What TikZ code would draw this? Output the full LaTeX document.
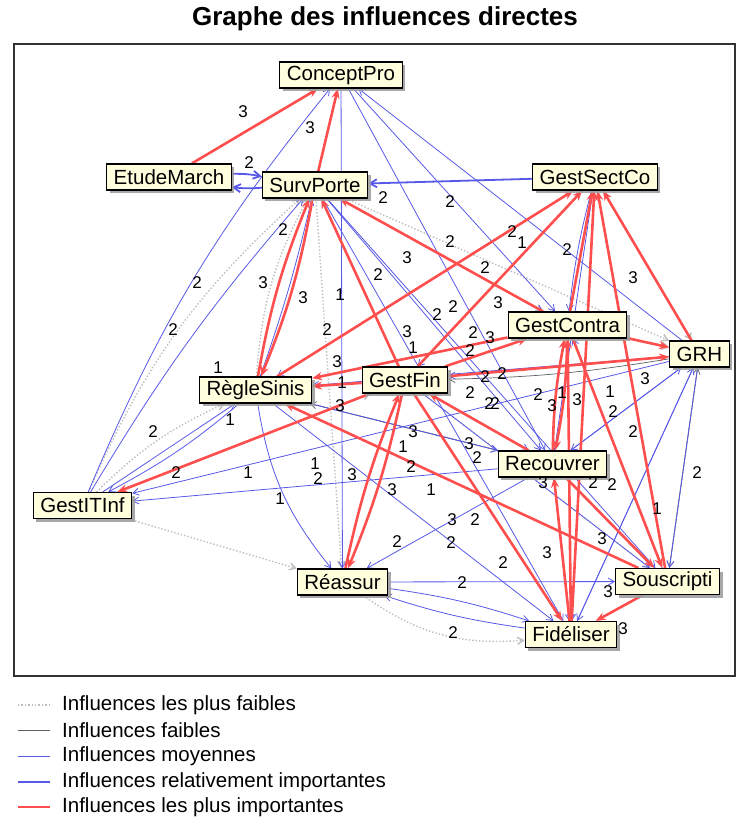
\documentclass[tikz,border=0pt]{standalone}
\usepackage{fontspec}
\setmainfont{Liberation Sans}
\usetikzlibrary{arrows.meta,shadows}

\definecolor{strong}{RGB}{255,78,78}
\definecolor{medium}{RGB}{88,88,232}
\definecolor{weakgray}{RGB}{95,95,95}
\definecolor{faint}{RGB}{190,190,190}
\definecolor{boxfill}{RGB}{255,255,222}

\pgfdeclarelayer{edges}
\pgfsetlayers{edges,main}

\tikzset{
  var/.style={draw=black, line width=1.1pt, fill=boxfill, minimum height=26pt,
    inner xsep=7pt, inner ysep=0pt, font=\fontsize{20.5}{22}\selectfont,
    drop shadow={shadow xshift=3pt, shadow yshift=-3pt, fill=gray!75, opacity=0.9}},
  e3/.style={draw=strong, line width=2.6pt, -{Stealth[length=10pt,width=8pt]}},
  e2/.style={draw=medium, line width=0.8pt, -{Straight Barb[length=6pt,width=7pt]}},
  e2b/.style={draw=medium, line width=1.8pt, -{Straight Barb[length=7pt,width=8pt]}},
  e1/.style={draw=weakgray, line width=0.7pt, -{Straight Barb[length=6pt,width=7pt]}},
  e0/.style={draw=faint, line width=1.4pt, dotted, -{Straight Barb[length=6pt,width=7pt]}},
  elbl/.style={font=\fontsize{17}{17}\selectfont, inner sep=0pt},
  legtxt/.style={font=\fontsize{20.5}{22}\selectfont, anchor=west, inner sep=0pt},
  frame/.style={draw=black!80, line width=1.4pt}
}

\begin{document}
\begin{tikzpicture}[x=1pt, y=-1pt]
\useasboundingbox (0,0) rectangle (749,817);

% title and frame
\node[font=\fontsize{26}{28}\selectfont\bfseries] (title) at (385,19) {Graphe des influences directes};
\draw[frame] (14,44) rectangle (735,676);

% variables
\node[var] (cp)  at (341,75)    {ConceptPro};
\node[var] (em)  at (169,177)   {EtudeMarch};
\node[var] (sp)  at (315,185)   {SurvPorte};
\node[var] (gs)  at (595,177)   {GestSectCo};
\node[var] (gc)  at (567.5,325) {GestContra};
\node[var] (grh) at (699.5,354) {GRH};
\node[var] (rs)  at (255.5,390) {RègleSinis};
\node[var] (gf)  at (405,380)   {GestFin};
\node[var] (rc)  at (552.5,464) {Recouvrer};
\node[var] (gi)  at (82.5,505.5){GestITInf};
\node[var] (re)  at (342.5,582) {Réassur};
\node[var] (so)  at (667.5,581.5){Souscripti};
\node[var] (fi)  at (571,634.5) {Fidéliser};

\begin{pgfonlayer}{edges}
% weakest influences
\draw[e0] (gi) to[bend left=12] (sp);
\draw[e0] (gi) to[bend left=10] (rs);
\draw[e0] (gi) -- (gf);
\draw[e0] (sp) -- (grh);
\draw[e0] (sp) -- (gc);
\draw[e0] (sp) -- (re);
\draw[e0] (rs) -- (rc);
\draw[e0] (grh) -- (so);
\draw[e0] (re) to[bend right=20] (fi);
\draw[e0] (gf) -- (so);
\draw[e0] (rs) to[bend left=12] (sp);
\draw[e0] (gs) -- (grh);
\draw[e0] (gi) -- (re);
\draw[e0] (gc) -- (grh);

% weak influences
\draw[e1] (rc) -- (rs);
\draw[e1] (grh) to[bend left=4] (gf);
\draw[e1] (so) -- (grh);

% medium influences
\draw[e2] (gi) to[bend left=8] (cp);
\draw[e2] (gi) to[bend left=5] (sp);
\draw[e2] (rs) to[bend right=3] (sp);
\draw[e2] (grh) -- (cp);
\draw[e2] (cp) -- (re);
\draw[e2] (cp) -- (rc);
\draw[e2] (cp) -- (gc);
\draw[e2] (sp) -- (gc);
\draw[e2] (sp) -- (rc);
\draw[e2] (sp) -- (fi);
\draw[e2] (sp) -- (so);
\draw[e2] (gs) -- (rs);
\draw[e2] (gs) -- (gf);
\draw[e2] (gs) -- (rc);
\draw[e2] (gs) -- (fi);
\draw[e2] (gs) to[bend right=4] (gc);
\draw[e2] (rc) -- (re);
\draw[e2] (grh) -- (gf);
\draw[e2] (grh) -- (rs);
\draw[e2] (grh) -- (rc);
\draw[e2] (grh) -- (fi);
\draw[e2] (grh) -- (so);
\draw[e2] (grh) -- (gi);
\draw[e2] (rc) -- (gi);
\draw[e2] (gi) -- (rs);
\draw[e2] (rs) to[bend left=6] (gi);
\draw[e2] (rs) to[bend right=15] (re);
\draw[e2] (rs) -- (fi);
\draw[e2] (rs) -- (rc);
\draw[e2] (gf) -- (rc);
\draw[e2] (gf) -- (so);
\draw[e2] (re) -- (so);
\draw[e2] (re) to[bend left=5] (fi);
\draw[e2] (fi) to[bend left=5] (re);
\draw[e2] (rc) -- (fi);
\draw[e2] (gc) -- (fi);
\draw[e2] (so) -- (gc);
\draw[e2] (fi) -- (grh);
\draw[e2] (rc) -- (grh);

% relatively important influences
\draw[e2b] (gs) -- (sp);
\draw[e2b] (em) to[bend left=6] (sp);
\draw[e2b] (sp) to[bend left=6] (em);

% most important influences
\draw[e3] (em) -- (cp);
\draw[e3] (sp) -- (cp);
\draw[e3] (rs) to[bend left=6] (sp);
\draw[e3] (sp) to[bend left=6] (rs);
\draw[e3] (gf) -- (sp);
\draw[e3] (gc) -- (sp);
\draw[e3] (rs) -- (gs);
\draw[e3] (gf) -- (gs);
\draw[e3] (gc) -- (gs);
\draw[e3] (fi) -- (gs);
\draw[e3] (so) -- (gs);
\draw[e3] (grh) -- (gs);
\draw[e3] (gf) -- (rs);
\draw[e3] (gc) -- (rs);
\draw[e3] (gf) -- (gc);
\draw[e3] (gf) -- (grh);
\draw[e3] (gc) -- (grh);
\draw[e3] (gc) to[bend left=5] (rc);
\draw[e3] (rc) to[bend left=5] (gc);
\draw[e3] (fi) -- (rc);
\draw[e3] (fi) -- (gc);
\draw[e3] (so) -- (fi);
\draw[e3] (gc) -- (so);
\draw[e3] (rc) -- (so);
\draw[e3] (rc) -- (gf);
\draw[e3] (so) -- (rs);
\draw[e3] (gf) -- (fi);
\draw[e3] (gf) to[bend left=5] (re);
\draw[e3] (re) to[bend left=5] (gf);
\draw[e3] (gf) -- (gi);
\end{pgfonlayer}

% influence values
\foreach \x/\y/\t [count=\i] in {
  243/112/3, 310/128/3, 249/163/2, 383/198/2, 450/202/2, 283/230/2, 512/232/2,
  522/243/1, 450/242/2, 567/250/2, 407/258/3, 485/268/2, 378/275/2, 633/278/3,
  197/283/2, 263/283/3, 340/295/1, 303/298/3, 498/303/3, 453/307/2, 437/315/2,
  173/330/2, 327/330/2, 407/332/3, 473/333/2, 490/338/3, 413/348/1, 470/351/2,
  337/362/3, 218/368/1, 342/383/1, 645/379/3, 485/377/2, 502/374/2, 470/393/2,
  538/395/2, 562/393/1, 577/400/3, 552/406/3, 610/392/1, 340/406/3, 489/404/2,
  495/404/2, 613/412/2, 230/420/1, 153/432/2, 413/432/3, 633/432/2, 469/444/3,
  403/447/1, 477/458/2, 315/464/1, 411/467/2, 176/473/2, 248/473/1, 318/479/2,
  352/475/3, 697/473/2, 543/483/3, 593/483/2, 612/485/2, 392/490/3, 431/490/1,
  280/499/1, 657/509/1, 452/520/3, 475/520/2, 602/539/3, 397/542/2, 451/543/2,
  547/553/3, 503/563/2, 462/583/2, 608/592/3, 453/633/2, 623/629/3}
  \node[elbl] (val\i) at (\x,\y) {\t};

% legend
\draw[draw=faint, line width=1.4pt, dotted] (18,705) coordinate (k0a) -- (50,705) coordinate (k0b);
\node[legtxt] (leg0) at (62,705) {Influences les plus faibles};
\draw[draw=weakgray, line width=0.9pt] (18,730) coordinate (k1a) -- (50,730) coordinate (k1b);
\node[legtxt] (leg1) at (62,730) {Influences faibles};
\draw[draw=medium, line width=1pt] (18,756) coordinate (k2a) -- (50,756) coordinate (k2b);
\node[legtxt] (leg2) at (62,756) {Influences moyennes};
\draw[draw=medium, line width=2.2pt] (18,782) coordinate (k3a) -- (50,782) coordinate (k3b);
\node[legtxt] (leg3) at (62,782) {Influences relativement importantes};
\draw[draw=strong, line width=2.6pt] (18,807) coordinate (k4a) -- (50,807) coordinate (k4b);
\node[legtxt] (leg4) at (62,807) {Influences les plus importantes};
\end{tikzpicture}
\end{document}
